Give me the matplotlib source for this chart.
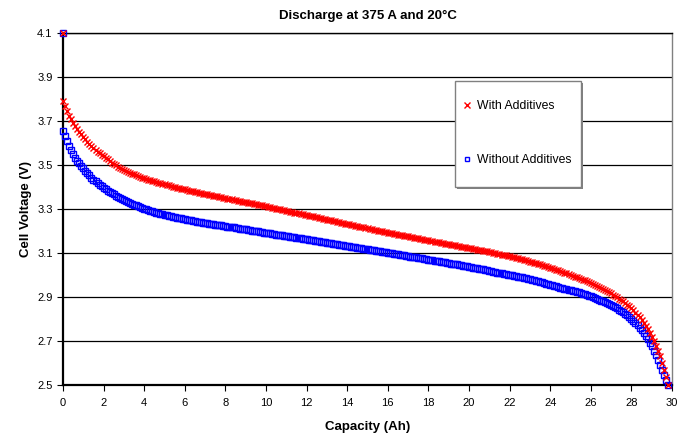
import numpy as np
import matplotlib.pyplot as plt
from matplotlib.patches import Rectangle

plt.rcParams['font.family'] = ['Liberation Sans', 'DejaVu Sans']

# capacity sampling grid (Ah), one reading every 0.1 Ah
capacity = np.round(np.arange(0, 29.85, 0.1), 1)

# cell voltage (V), one row per Ah
with_additives = [
    3.790, 3.766, 3.745, 3.725, 3.707, 3.691, 3.677, 3.664, 3.651, 3.639,
    3.627, 3.616, 3.605, 3.595, 3.586, 3.577, 3.569, 3.561, 3.553, 3.546,
    3.539, 3.532, 3.525, 3.518, 3.511, 3.504, 3.498, 3.492, 3.487, 3.482,
    3.477, 3.473, 3.469, 3.465, 3.461, 3.457, 3.454, 3.450, 3.447, 3.443,
    3.440, 3.437, 3.434, 3.431, 3.428, 3.425, 3.422, 3.420, 3.417, 3.414,
    3.412, 3.409, 3.407, 3.404, 3.402, 3.399, 3.397, 3.395, 3.393, 3.391,
    3.389, 3.386, 3.384, 3.382, 3.380, 3.378, 3.376, 3.374, 3.372, 3.370,
    3.368, 3.366, 3.364, 3.362, 3.360, 3.358, 3.357, 3.355, 3.353, 3.351,
    3.349, 3.347, 3.345, 3.344, 3.342, 3.340, 3.338, 3.336, 3.334, 3.333,
    3.331, 3.329, 3.327, 3.325, 3.323, 3.321, 3.319, 3.318, 3.316, 3.314,
    3.312, 3.310, 3.308, 3.306, 3.304, 3.302, 3.300, 3.298, 3.296, 3.294,
    3.292, 3.290, 3.288, 3.286, 3.284, 3.282, 3.280, 3.278, 3.276, 3.274,
    3.272, 3.270, 3.268, 3.266, 3.264, 3.262, 3.260, 3.258, 3.256, 3.254,
    3.252, 3.250, 3.248, 3.246, 3.244, 3.242, 3.240, 3.238, 3.236, 3.234,
    3.232, 3.230, 3.228, 3.226, 3.224, 3.222, 3.220, 3.218, 3.216, 3.214,
    3.212, 3.210, 3.208, 3.206, 3.204, 3.202, 3.200, 3.198, 3.196, 3.194,
    3.192, 3.190, 3.189, 3.187, 3.185, 3.184, 3.182, 3.180, 3.178, 3.177,
    3.175, 3.173, 3.171, 3.170, 3.168, 3.166, 3.164, 3.163, 3.161, 3.159,
    3.157, 3.156, 3.154, 3.152, 3.150, 3.149, 3.147, 3.145, 3.143, 3.142,
    3.140, 3.138, 3.136, 3.135, 3.133, 3.131, 3.129, 3.128, 3.126, 3.124,
    3.122, 3.121, 3.119, 3.117, 3.115, 3.114, 3.112, 3.110, 3.108, 3.107,
    3.105, 3.103, 3.101, 3.099, 3.097, 3.095, 3.093, 3.091, 3.089, 3.087,
    3.085, 3.082, 3.080, 3.078, 3.076, 3.073, 3.071, 3.068, 3.066, 3.063,
    3.061, 3.058, 3.056, 3.053, 3.051, 3.048, 3.045, 3.042, 3.039, 3.036,
    3.033, 3.030, 3.027, 3.024, 3.021, 3.017, 3.014, 3.010, 3.007, 3.003,
    3.000, 2.996, 2.993, 2.989, 2.986, 2.982, 2.979, 2.975, 2.971, 2.967,
    2.963, 2.959, 2.955, 2.950, 2.946, 2.941, 2.936, 2.931, 2.926, 2.921,
    2.916, 2.911, 2.905, 2.899, 2.893, 2.887, 2.880, 2.873, 2.865, 2.857,
    2.848, 2.839, 2.829, 2.818, 2.807, 2.795, 2.782, 2.768, 2.753, 2.737,
    2.719, 2.700, 2.679, 2.656, 2.630, 2.601, 2.570, 2.536, 2.500,
]
without_additives = [
    3.655, 3.632, 3.610, 3.587, 3.566, 3.548, 3.533, 3.520, 3.508, 3.496,
    3.485, 3.474, 3.463, 3.453, 3.443, 3.434, 3.426, 3.418, 3.411, 3.404,
    3.397, 3.390, 3.384, 3.378, 3.372, 3.366, 3.361, 3.356, 3.351, 3.346,
    3.341, 3.336, 3.332, 3.328, 3.324, 3.320, 3.316, 3.312, 3.309, 3.305,
    3.302, 3.299, 3.296, 3.293, 3.290, 3.287, 3.284, 3.281, 3.279, 3.276,
    3.274, 3.271, 3.269, 3.267, 3.265, 3.263, 3.261, 3.259, 3.257, 3.255,
    3.253, 3.251, 3.250, 3.248, 3.246, 3.244, 3.243, 3.241, 3.240, 3.238,
    3.237, 3.235, 3.234, 3.232, 3.231, 3.229, 3.228, 3.226, 3.225, 3.223,
    3.222, 3.220, 3.219, 3.217, 3.216, 3.214, 3.213, 3.211, 3.210, 3.208,
    3.207, 3.205, 3.204, 3.202, 3.201, 3.199, 3.198, 3.196, 3.195, 3.193,
    3.192, 3.190, 3.189, 3.187, 3.186, 3.184, 3.183, 3.181, 3.180, 3.178,
    3.177, 3.175, 3.174, 3.172, 3.171, 3.169, 3.168, 3.166, 3.165, 3.163,
    3.162, 3.160, 3.159, 3.157, 3.156, 3.154, 3.153, 3.151, 3.150, 3.148,
    3.147, 3.145, 3.144, 3.142, 3.141, 3.139, 3.138, 3.136, 3.135, 3.133,
    3.132, 3.130, 3.129, 3.127, 3.126, 3.124, 3.123, 3.121, 3.120, 3.118,
    3.117, 3.115, 3.114, 3.112, 3.111, 3.109, 3.108, 3.106, 3.105, 3.103,
    3.102, 3.100, 3.099, 3.097, 3.096, 3.094, 3.092, 3.091, 3.089, 3.088,
    3.086, 3.084, 3.083, 3.081, 3.080, 3.078, 3.076, 3.075, 3.073, 3.072,
    3.070, 3.068, 3.067, 3.065, 3.064, 3.062, 3.060, 3.059, 3.057, 3.056,
    3.054, 3.052, 3.051, 3.049, 3.048, 3.046, 3.044, 3.043, 3.041, 3.040,
    3.038, 3.036, 3.034, 3.032, 3.030, 3.029, 3.027, 3.025, 3.023, 3.021,
    3.019, 3.017, 3.015, 3.013, 3.011, 3.010, 3.008, 3.006, 3.004, 3.002,
    3.000, 2.998, 2.996, 2.994, 2.992, 2.991, 2.989, 2.987, 2.985, 2.983,
    2.981, 2.978, 2.976, 2.973, 2.971, 2.968, 2.966, 2.963, 2.961, 2.958,
    2.956, 2.953, 2.951, 2.948, 2.946, 2.943, 2.941, 2.938, 2.936, 2.933,
    2.931, 2.928, 2.926, 2.923, 2.921, 2.918, 2.915, 2.912, 2.909, 2.906,
    2.903, 2.900, 2.896, 2.892, 2.888, 2.884, 2.880, 2.876, 2.872, 2.868,
    2.863, 2.858, 2.853, 2.848, 2.842, 2.836, 2.830, 2.823, 2.816, 2.808,
    2.800, 2.791, 2.782, 2.772, 2.761, 2.749, 2.737, 2.723, 2.709, 2.693,
    2.676, 2.656, 2.635, 2.614, 2.592, 2.569, 2.545, 2.522, 2.500,
]

# open-circuit point at the very start of both runs
start_cap = 0.0
start_volt = 4.1

x_ticks = np.arange(0, 31, 2)
y_ticks = np.round(np.arange(2.5, 4.11, 0.2), 1)

fig = plt.figure(figsize=(6.88, 4.36), dpi=100)
ax = fig.add_axes([0.0916, 0.117, 0.8852, 0.8073])

xb = np.concatenate([[start_cap], capacity])
yb = np.concatenate([[start_volt], without_additives])
yr = np.concatenate([[start_volt], with_additives])

hb, = ax.plot(xb, yb, ls='none', marker='s', ms=3.9, mfc='none', mec='#0000ff',
              mew=1.0, clip_on=False, zorder=3, label='Without Additives')
hr, = ax.plot(xb, yr, ls='none', marker='x', ms=4.1, color='#ff0000',
              mew=1.0, clip_on=False, zorder=4, label='With Additives')

ax.set_xlim(0, 30)
ax.set_ylim(2.5, 4.1)
ax.set_xticks(x_ticks)
ax.set_yticks(y_ticks)
ax.set_yticklabels(['%.1f' % v for v in y_ticks])
ax.tick_params(labelsize=8, length=4, width=0.8, colors='black', direction='out')
ax.tick_params(axis='x', pad=5.5)

ax.grid(axis='y', color='black', lw=0.9)
ax.set_axisbelow(True)
for side in ['left', 'bottom']:
    ax.spines[side].set_linewidth(1.6)
ax.spines['top'].set_linewidth(1.0)
ax.spines['right'].set_color('#808080')
ax.spines['right'].set_linewidth(1.0)

ax.set_title('Discharge at 375 A and 20°C', fontsize=9.5, fontweight='bold', pad=10)
ax.set_xlabel('Capacity (Ah)', fontsize=9.5, fontweight='bold', labelpad=9.5)
ax.set_ylabel('Cell Voltage (V)', fontsize=9.5, fontweight='bold', labelpad=4)

# legend box with a small drop shadow
box = (0.6437, 0.5625, 0.2069, 0.3011)
ax.add_patch(Rectangle((box[0] + 0.0033, box[1] - 0.0057), box[2], box[3],
                       transform=ax.transAxes, facecolor='#808080', edgecolor='none',
                       zorder=5, clip_on=False))
ax.add_patch(Rectangle(box[:2], box[2], box[3], transform=ax.transAxes,
                       facecolor='white', edgecolor='#808080', lw=1.0,
                       zorder=6, clip_on=False))
leg = ax.legend(handles=[hr, hb], loc='upper left', bbox_to_anchor=(0.6576, 0.809),
                borderaxespad=0, borderpad=0, fontsize=8.8, labelspacing=3.45,
                handlelength=0.6, handletextpad=0.52, frameon=False, markerscale=0.9)
leg.set_zorder(7)

fig.savefig('out.png', dpi=100)
